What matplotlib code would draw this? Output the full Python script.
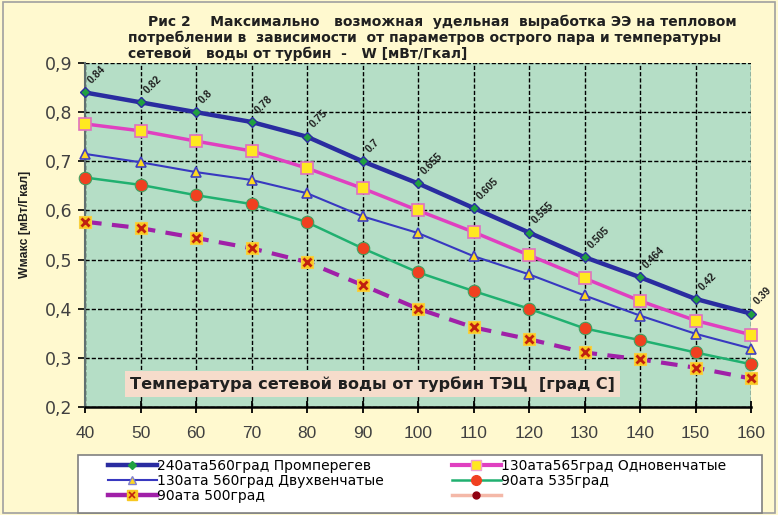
import numpy as np
import matplotlib
matplotlib.use("Agg")
import matplotlib.pyplot as plt
from matplotlib.lines import Line2D
from matplotlib.patches import Rectangle
from matplotlib.legend_handler import HandlerTuple

plt.rcParams['font.family'] = ['Liberation Sans', 'DejaVu Sans']

# temperature of network water, deg C
temps = [40, 50, 60, 70, 80, 90, 100, 110, 120, 130, 140, 150, 160]

# specific output W, MWt/Gcal
w_240_560 = [0.84, 0.82, 0.80, 0.78, 0.75, 0.70, 0.655, 0.605, 0.555, 0.505, 0.464, 0.42, 0.39]
w_130_565 = [0.776, 0.762, 0.741, 0.721, 0.686, 0.645, 0.600, 0.556, 0.509, 0.462, 0.416, 0.376, 0.347]
w_130_560 = [0.715, 0.698, 0.678, 0.662, 0.635, 0.588, 0.554, 0.507, 0.470, 0.427, 0.386, 0.349, 0.319]
w_90_535 = [0.667, 0.652, 0.631, 0.613, 0.576, 0.523, 0.474, 0.436, 0.400, 0.360, 0.336, 0.311, 0.287]
w_90_500 = [0.577, 0.564, 0.544, 0.523, 0.495, 0.448, 0.400, 0.362, 0.338, 0.311, 0.297, 0.280, 0.258]

names = ["240ата560град Промперегев",
         "130ата565град Одновенчатые",
         "130ата 560град Двухвенчатые",
         "90ата 535град",
         "90ата 500град"]

yticks = [0.2, 0.3, 0.4, 0.5, 0.6, 0.7, 0.8, 0.9]

BG = '#fff9cf'
PLOT_BG = '#b5dec6'
WIDE = 'DejaVu Sans'

fig = plt.figure(figsize=(7.78, 5.15), dpi=100, facecolor=BG)
ax = fig.add_axes([85/778, 1-407/515, 666/778, 344/515])
ax.set_facecolor(PLOT_BG)
fig.add_artist(Rectangle((0.004, 0.004), 0.992, 0.992, transform=fig.transFigure,
                         fill=False, edgecolor='#a0a0a0', linewidth=1.2))

ax.set_xlim(40, 160)
ax.set_ylim(0.2, 0.9)
ax.set_xticks(temps)
ax.set_yticks(yticks)
ax.set_yticklabels([f"{v:.1f}".replace('.', ',') for v in yticks], family=WIDE)
ax.grid(True, color='black', linestyle=(0, (3, 1.5)), linewidth=1.0)
ax.set_axisbelow(True)
for s in ['top', 'right']:
    ax.spines[s].set_visible(False)
ax.spines['left'].set_color('#607070')
ax.spines['left'].set_linewidth(1.5)
ax.spines['bottom'].set_color('black')
ax.spines['bottom'].set_linewidth(1.8)
ax.tick_params(axis='x', direction='inout', length=9, width=1.3, pad=9,
               labelsize=12.5, labelcolor='#404040')
ax.tick_params(axis='y', direction='out', length=5, width=1.2, pad=4,
               labelsize=12.5, labelcolor='#404040')

l1, = ax.plot(temps, w_240_560, color='#2a2ca0', lw=3.2, marker='D', ms=5.5,
              mfc='#20a040', mec='#2a2ca0', mew=1, zorder=6, clip_on=False)
l2, = ax.plot(temps, w_130_565, color='#e040c0', lw=2.5, marker='s', ms=9,
              mfc='#ffe820', mec='#e070c0', mew=1.2, zorder=5, clip_on=False)
l3, = ax.plot(temps, w_130_560, color='#3838c0', lw=1.5, marker='^', ms=7,
              mfc='#ffd820', mec='#4040c0', mew=1.2, zorder=4, clip_on=False)
l4, = ax.plot(temps, w_90_535, color='#20b070', lw=1.8, marker='o', ms=9,
              mfc='#f04020', mec='#40a060', mew=0.8, zorder=4, clip_on=False)
l5, = ax.plot(temps, w_90_500, color='#a020a8', lw=3, linestyle=(0, (4, 2.5)),
              marker='s', ms=8.5, mfc='#f8c820', mec='#f8d040', mew=0.8, zorder=3,
              clip_on=False)
ax.plot(temps, w_90_500, linestyle='none', marker='x', ms=5.5,
        mec='#c02010', mew=2, zorder=3.5, clip_on=False)

for t, v in zip(temps, w_240_560):
    ax.annotate(f"{v:g}", (t, v), xytext=(6, 5), textcoords='offset points',
                rotation=45, rotation_mode='anchor', ha='left', va='bottom',
                fontsize=7.5, fontweight='bold', color='#202020', zorder=7)

ax.text(0.068, 0.067, "Температура сетевой воды от турбин ТЭЦ  [град С]",
        transform=ax.transAxes, fontsize=11.6, fontweight='bold', color='#202020',
        va='center', ha='left', family=WIDE,
        bbox=dict(boxstyle='square,pad=0.3', facecolor='#f6dccb', edgecolor='none'))

fig.text(25/778, 1-224/515, "Wмакс [мВт/Гкал]", rotation=90, ha='center', va='center',
         fontsize=8.8, fontweight='bold', color='#202020')

title_lines = ["Рис 2    Максимально   возможная  удельная  выработка ЭЭ на тепловом",
               "потреблении в  зависимости  от параметров острого пара и температуры",
               "сетевой   воды от турбин  -   W [мВт/Гкал]"]
title_x = [148, 128, 128]
for i, (line, x) in enumerate(zip(title_lines, title_x)):
    fig.text(x/778, 1-(22 + i*16)/515, line, ha='left', va='center', family=WIDE,
             fontsize=10, fontweight='bold', color='#202020')

# legend: small markers, drawn on its own frame
h1 = Line2D([], [], color='#2a2ca0', lw=3.2, marker='D', ms=4.5, mfc='#20a040', mec='#20a040')
h2 = Line2D([], [], color='#e040c0', lw=3, marker='s', ms=7, mfc='#ffe820', mec='#f0a0d0')
h3 = Line2D([], [], color='#3838c0', lw=1.5, marker='^', ms=6, mfc='#ffd820', mec='#8080d0')
h4 = Line2D([], [], color='#20b070', lw=1.8, marker='o', ms=7, mfc='#f04020', mec='#f04020')
h5a = Line2D([], [], color='#a020a8', lw=3.2, marker='s', ms=7, mfc='#f8c820', mec='#f8c820')
h5b = Line2D([], [], linestyle='none', marker='x', ms=4, mec='#c02010', mew=1.2)
h6 = Line2D([], [], color='#f4b8a8', lw=2.5, marker='o', ms=5, mfc='#900010', mec='#900010')
handles = [h1, h3, (h5a, h5b), h2, h4, h6]
labels = [names[0], names[2], names[4], names[1], names[3], ""]

fig.add_artist(Rectangle((78/778, 2/515), 684/778, 58/515, transform=fig.transFigure,
                         facecolor='white', edgecolor='#808080', linewidth=1.2))
leg = fig.legend(handles, labels, ncol=2, loc='upper left',
                 bbox_to_anchor=(108/778, 1-459/515), prop={'family': WIDE, 'size': 10},
                 frameon=False, handlelength=3.5, handletextpad=0.05,
                 labelspacing=0.08, borderpad=0, borderaxespad=0, columnspacing=4.9,
                 handler_map={tuple: HandlerTuple(ndivide=1, pad=0)})

fig.savefig('out.png', dpi=100, facecolor=BG)
